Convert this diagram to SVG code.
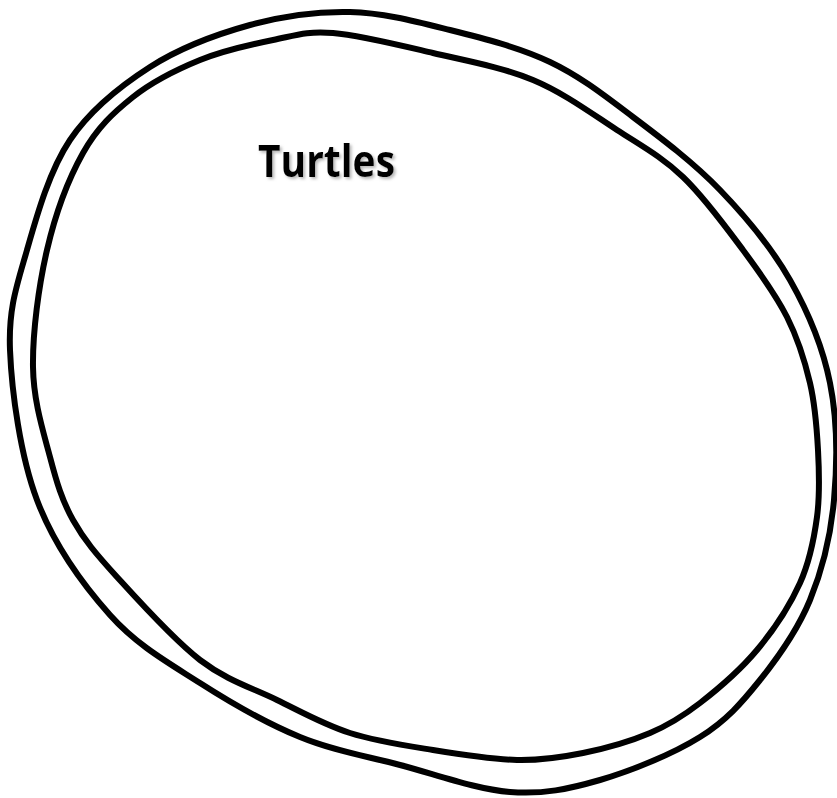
<svg xmlns="http://www.w3.org/2000/svg" width="837" height="798" viewBox="0 0 837 798">
<style>
.ring{fill:none;stroke:#000;stroke-width:6;stroke-linejoin:round;stroke-linecap:round}
.label{font-family:"Open Sans","Liberation Sans",sans-serif;font-weight:bold;font-size:44px;fill:#000}
</style>
<defs>
<filter id="shadow" x="-10%" y="-30%" width="130%" height="170%">
<feDropShadow dx="2" dy="2" stdDeviation="1.5" flood-color="#999" flood-opacity="0.7"/>
</filter>
</defs>
<rect width="837" height="798" fill="#fff"/>
<g id="turtles">
<path class="ring" d="M350,12 C383.3,12.8 416.7,21.7 450,30 C483.3,38.3 519.5,47.5 550,62 C580.5,76.5 604.7,95.7 633,117 C661.3,138.3 693.8,162.8 720,190 C746.2,217.2 771.7,247.8 790,280 C808.3,312.2 822.7,346.3 830,383 C837.3,419.7 837.3,463.8 834,500 C830.7,536.2 822.3,570 810,600 C797.7,630 778.3,657.2 760,680 C741.7,702.8 726.7,720.3 700,737 C673.3,753.7 631.7,770.8 600,780 C568.3,789.2 543.3,794.5 510,792 C476.7,789.5 435,774.2 400,765 C365,755.8 333.3,750.7 300,737 C266.7,723.3 231.7,703.3 200,683 C168.3,662.7 137.2,645.5 110,615 C82.8,584.5 53.7,544.2 37,500 C20.3,455.8 11.7,391.7 10,350 C8.3,308.3 17,285 27,250 C37,215 49.5,170.5 70,140 C90.5,109.5 120,86.2 150,67 C180,47.8 216.7,34.2 250,25 C283.3,15.8 316.7,11.2 350,12 Z"/>
<path class="ring" d="M333,33 C359.7,35.2 399.7,45.2 433,53 C466.3,60.8 502.3,67.2 533,80 C563.7,92.8 592,113.8 617,130 C642,146.2 662,157 683,177 C704,197 725.7,226.7 743,250 C760.3,273.3 775.8,294.8 787,317 C798.2,339.2 804.8,360.8 810,383 C815.2,405.2 816.8,427.7 818,450 C819.2,472.3 820,494.8 817,517 C814,539.2 810,560.8 800,583 C790,605.2 773.7,630 757,650 C740.3,670 717.8,689.2 700,703 C682.2,716.8 669.5,724.7 650,733 C630.5,741.3 605.2,748.5 583,753 C560.8,757.5 542,760.5 517,760 C492,759.5 460.8,754.5 433,750 C405.2,745.5 376,741.3 350,733 C324,724.7 302,712.2 277,700 C252,687.8 226.7,680.5 200,660 C173.3,639.5 138.2,600.3 117,577 C95.8,553.7 84.2,540 73,520 C61.8,500 56.7,482.5 50,457 C43.3,431.5 33.5,401.5 33,367 C32.5,332.5 38.7,285.7 47,250 C55.3,214.3 68.7,178.5 83,153 C97.3,127.5 113.5,112.5 133,97 C152.5,81.5 176.7,69.5 200,60 C223.3,50.5 250.8,44.5 273,40 C295.2,35.5 306.3,30.8 333,33 Z"/>
<text class="label" x="258" y="177" textLength="137" lengthAdjust="spacingAndGlyphs" filter="url(#shadow)">Turtles</text>
</g>
</svg>
